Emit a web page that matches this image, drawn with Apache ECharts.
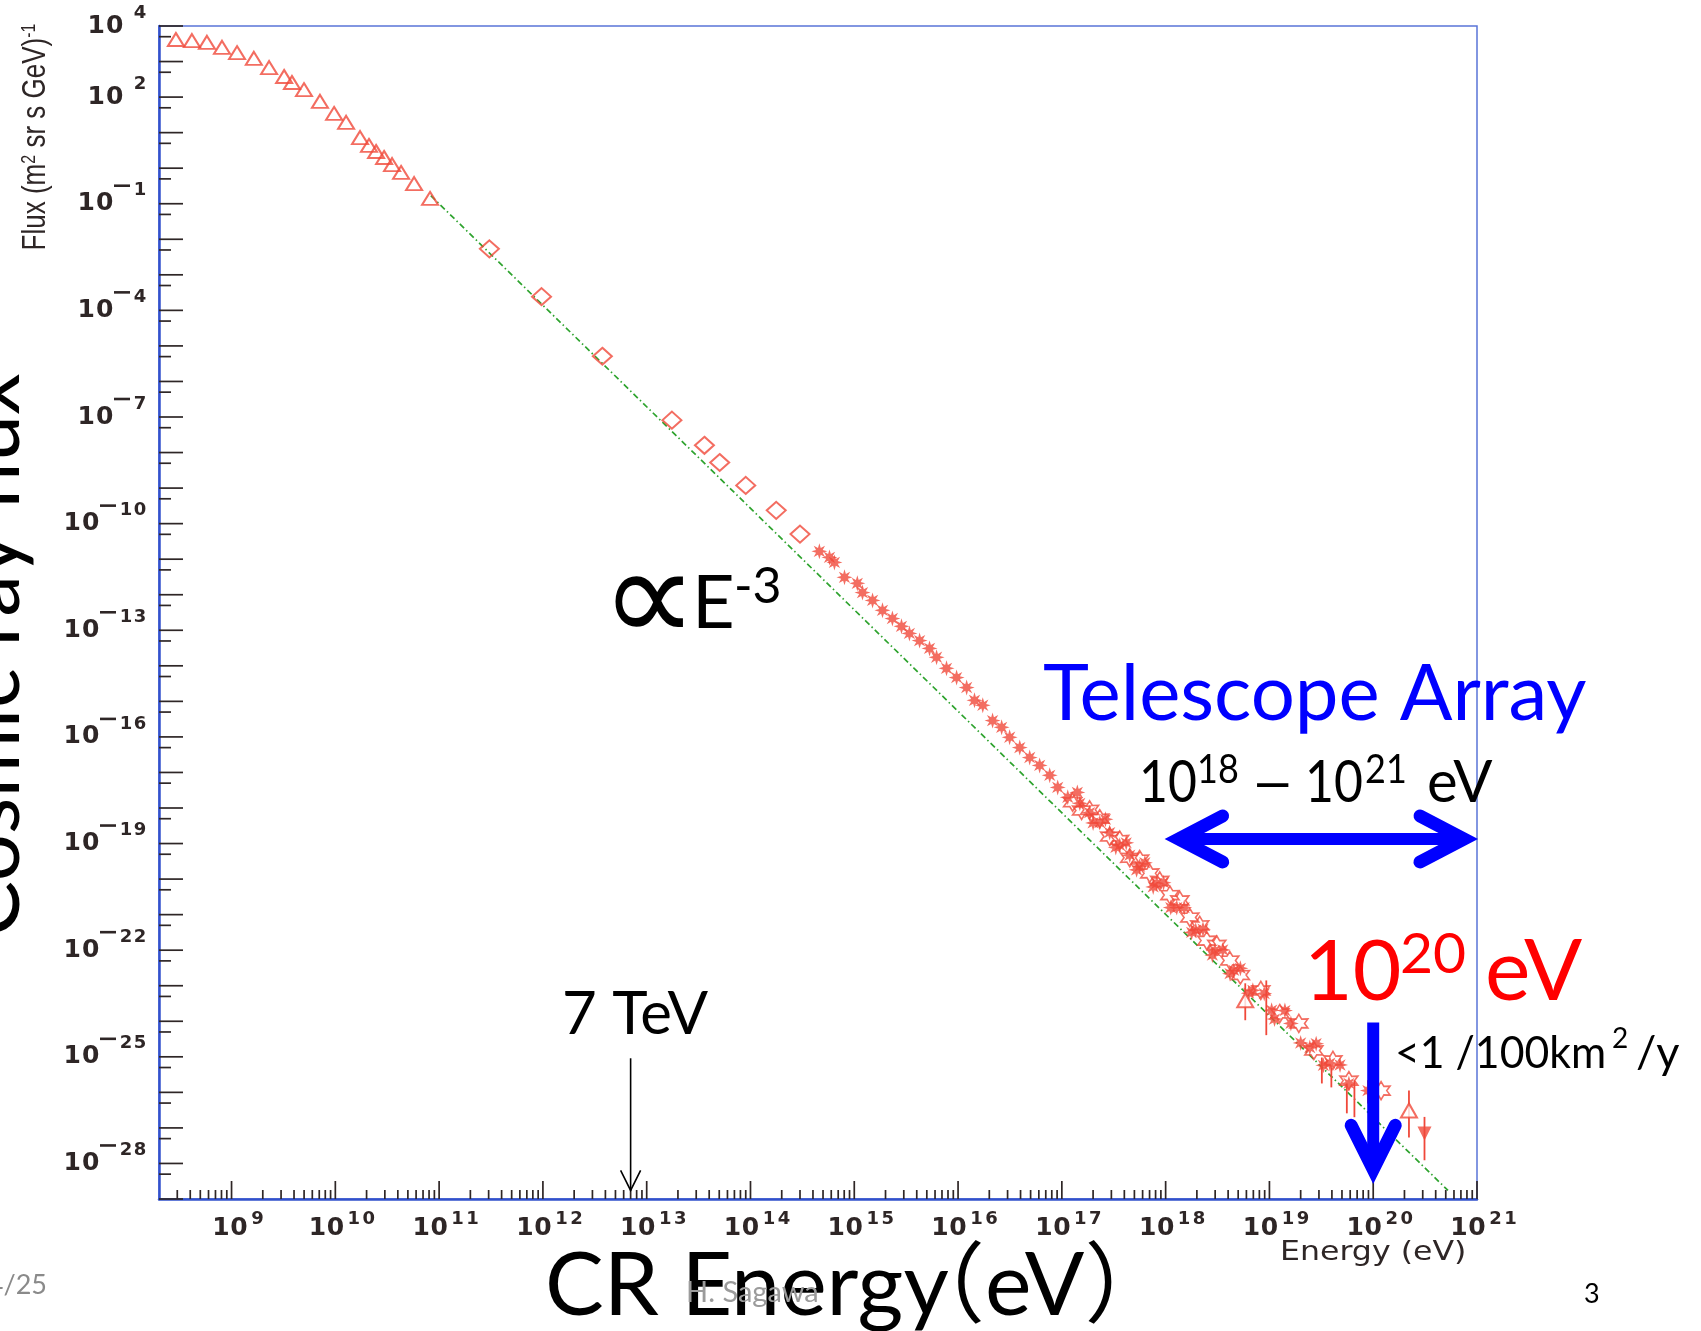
<!DOCTYPE html>
<html>
<head>
<meta charset="utf-8">
<script src="https://cdn.jsdelivr.net/npm/echarts@6.0.0/dist/echarts.min.js"></script>
<style>
html,body{margin:0;padding:0;background:#ffffff;overflow:hidden;}
#chart{width:1701px;height:1331px;}
</style>
</head>
<body>
<div id="chart"></div>
<script>
// ---------- axis ranges & tick labels ----------
const X_MIN = 2e8, X_MAX = 1e21;
const Y_MIN = 1e-29, Y_MAX = 1e4;
const xTickExps = [9, 10, 11, 12, 13, 14, 15, 16, 17, 18, 19, 20, 21];
const yLabelExps = [4, 2, -1, -4, -7, -10, -13, -16, -19, -22, -25, -28];

// ---------- data (energy in eV, flux in (m^2 sr s GeV)^-1) ----------
// open triangles (low energy)
const triE = [2.91e8, 4.15e8, 5.79e8, 8.09e8, 1.13e9, 1.64e9, 2.30e9, 3.21e9, 3.82e9, 4.99e9, 7.11e9, 9.73e9, 1.27e10, 1.73e10, 2.11e10, 2.47e10, 2.95e10, 3.52e10, 4.30e10, 5.74e10, 8.18e10];
const triF = [4170, 3890, 3470, 2510, 1780, 1230, 676, 380, 257, 162, 75.9, 34.7, 19.5, 7.24, 4.37, 2.95, 2.0, 1.26, 0.76, 0.37, 0.141];
// open diamonds
const diaE = [3.05e11, 9.70e11, 3.74e12, 1.75e13, 3.60e13, 5.05e13, 9.0e13, 1.77e14, 3.0e14];
const diaF = [5.37e-3, 2.43e-4, 5.12e-6, 8.13e-8, 1.60e-8, 5.24e-9, 1.19e-9, 2.37e-10, 5.07e-11];
// filled stars (air shower data)
const starE = [4.61e14, 5.77e14, 6.44e14, 8.05e14, 1.07e15, 1.20e15, 1.50e15, 1.87e15, 2.33e15, 2.85e15, 3.40e15, 4.26e15, 5.31e15, 6.21e15, 7.74e15, 9.68e15, 1.21e16, 1.44e16, 1.73e16, 2.15e16, 2.63e16, 3.14e16, 3.93e16, 4.90e16, 6.11e16, 7.64e16, 9.12e16, 1.14e17, 1.49e17, 1.85e17, 2.32e17, 2.89e17, 3.61e17, 4.51e17, 5.62e17, 8.20e17, 1.28e18, 1.95e18, 2.98e18, 4.54e18, 6.92e18, 1.05e19, 1.61e19, 2.45e19, 3.82e19, 5.83e19, 8.89e19];
const starF = [1.66e-11, 1.12e-11, 8.13e-12, 3.09e-12, 2.09e-12, 1.15e-12, 6.92e-13, 3.63e-13, 2.14e-13, 1.29e-13, 8.13e-14, 5.13e-14, 3.09e-14, 1.74e-14, 8.51e-15, 4.68e-15, 2.45e-15, 1.07e-15, 7.76e-16, 2.88e-16, 1.86e-16, 9.77e-17, 5.01e-17, 2.63e-17, 1.58e-17, 8.32e-18, 3.80e-18, 2.0e-18, 1.35e-18, 7.41e-19, 3.89e-19, 2.04e-19, 8.91e-20, 4.68e-20, 2.29e-20, 7.59e-21, 1.58e-21, 3.63e-22, 9.77e-23, 2.69e-23, 7.41e-24, 2.04e-24, 8.71e-25, 1.82e-25, 6.61e-26, 1.78e-26, 1.12e-26];
// further filled points in the crowded 1e17-1e20 eV band
const bandE = [1.41e17, 2.0e17, 2.63e17, 3.31e17, 4.17e17, 5.25e17, 6.31e17, 7.59e17, 9.55e17, 1.12e18, 1.51e18, 1.78e18, 2.29e18, 2.82e18, 3.55e18, 4.17e18, 5.25e18, 6.31e18, 8.91e18, 1.12e19, 1.41e19, 2.0e19, 2.82e19, 3.31e19, 4.79e19];
const bandF = [2.75e-18, 3.80e-19, 4.79e-19, 7.76e-20, 1.05e-19, 1.82e-20, 2.88e-20, 6.03e-21, 7.94e-21, 1.58e-21, 1.58e-21, 3.16e-22, 3.89e-22, 7.24e-23, 1.02e-22, 2.19e-23, 3.09e-23, 6.17e-24, 6.03e-24, 1.15e-24, 2.0e-24, 2.45e-25, 2.34e-25, 5.75e-26, 5.89e-26];
// open star symbols (UHECR experiments)
const openE = [1.27e17, 1.55e17, 1.85e17, 2.32e17, 2.89e17, 3.61e17, 4.51e17, 5.62e17, 7.03e17, 8.77e17, 1.10e18, 1.37e18, 1.71e18, 2.13e18, 2.49e18, 3.11e18, 4.15e18, 5.25e18, 8.26e18, 1.26e19, 1.92e19, 2.68e19, 4.09e19, 5.83e19, 1.19e20];
const openF = [1.45e-18, 8.5e-19, 8.9e-19, 5.0e-19, 1.58e-19, 1.26e-19, 3.98e-20, 3.55e-20, 1.45e-20, 8.9e-21, 3.55e-21, 2.51e-21, 8.3e-22, 5.0e-22, 1.86e-22, 1.41e-22, 5.13e-23, 2.0e-23, 7.41e-24, 1.66e-24, 8.71e-25, 1.51e-25, 7.94e-26, 2.14e-26, 1.12e-26];
// highest-energy open triangles and filled down triangle
const hiTriE = [5.85e18, 2.21e20];
const hiTriF = [3.89e-24, 3.09e-27];
const downTriE = [3.12e20];
const downTriF = [6.92e-28];
// vertical error bars
const errE  = [5.85e18, 9.33e18, 3.20e19, 3.95e19, 5.57e19, 6.59e19, 8.89e19, 2.21e20, 3.12e20];
const errLo = [1.07e-24, 4.07e-25, 1.78e-26, 1.38e-26, 2.57e-27, 2.0e-27, 4.90e-27, 5.37e-28, 1.23e-28];
const errHi = [1.17e-23, 1.41e-23, 9.55e-26, 5.01e-26, 1.78e-26, 2.19e-26, 2.19e-26, 1.12e-26, 2.04e-27];
// power-law guide line (proportional to E^-3)
const guideE = [8.32e10, 5.25e20];
const guideF = [0.1687, 1.74e-29];
// annotation anchors
const taRange = [1e18, 1e21];
const taFlux = 1.35e-19;
const gzkE = 1e20;
const gzkF = [9.3e-25, 2.75e-29];
const lhcE = 7e12;
const lhcF = [9.1e-26, 1.74e-29];

// ---------- styling ----------
const RED = '#f0483a';
const TICK = '#2e2626';
const BLUE = '#0000ff';
const MAIN_FONT = 'bold 25px "DejaVu Sans"';
const EXP_FONT = 'bold 18px "DejaVu Sans"';
const SLIDE = 'Lato, "Noto Sans", sans-serif';

function pow10(e) { return Number('1e' + e); }

function starPath(n, rIn) {
  let d = '';
  for (let i = 0; i < 2 * n; i++) {
    const r = i % 2 ? rIn : 1;
    const a = Math.PI / 2 + i * Math.PI / n;
    d += (i ? 'L' : 'M') + (r * Math.cos(a)).toFixed(3) + ' ' + (-r * Math.sin(a)).toFixed(3) + ' ';
  }
  return 'path://' + d + 'Z';
}

// tick positions (axis structure)
const tickData = [];
for (let e = 8; e <= 21; e++) {
  const v = pow10(e);
  if (v > X_MIN && v <= X_MAX) tickData.push([v, Y_MIN, 18, 0]);
  if (e < 21) for (let m = 2; m <= 9; m++) {
    const w = m * pow10(e);
    if (w > X_MIN && w < X_MAX) tickData.push([w, Y_MIN, 9, 0]);
  }
}
for (let e = -29; e <= 4; e++) {
  tickData.push([X_MIN, pow10(e), 24, 1]);
  if (e < 4) tickData.push([X_MIN, 5 * pow10(e), 12, 1]);
}

function renderTick(params, api) {
  const p = api.coord([api.value(0), api.value(1)]);
  const len = api.value(2), o = api.value(3);
  const shape = o === 0
    ? { x1: p[0], y1: p[1], x2: p[0], y2: p[1] - len }
    : { x1: p[0], y1: p[1], x2: p[0] + len, y2: p[1] };
  return { type: 'line', shape, style: { stroke: TICK, lineWidth: 1.7 } };
}

function cellText(str, x0, cell, y, font) {
  return str.split('').map((ch, i) => ({
    type: 'text',
    style: { text: ch, x: x0 + cell * (i + 0.5), y: y, font: font, fill: TICK, textAlign: 'center', textVerticalAlign: 'middle' }
  }));
}

function renderXLabel(params, api) {
  const p = api.coord([api.value(0), api.value(1)]);
  const s = String(api.value(2));
  const W = 36 + 2 + 15 * s.length;
  const left = p[0] + 7 - W / 2;
  return { type: 'group', children: cellText('10', left, 18, p[1] + 29, MAIN_FONT).concat(cellText(s, left + 38, 15, p[1] + 20, EXP_FONT)) };
}

function renderYLabel(params, api) {
  const p = api.coord([api.value(0), api.value(1)]);
  const e = api.value(2);
  const s = String(Math.abs(e));
  const R = p[0] - 12;
  const expL = R - 14 * s.length;
  const minusR = expL - 3, minusL = minusR - 16;
  const mainR = e < 0 ? minusL : expL - 9;
  const children = cellText('10', mainR - 37, 18.5, p[1], MAIN_FONT).concat(cellText(s, expL, 14, p[1] - 13, EXP_FONT));
  if (e < 0) children.push({ type: 'line', shape: { x1: minusL, y1: p[1] - 18, x2: minusR, y2: p[1] - 18 }, style: { stroke: TICK, lineWidth: 2.6 } });
  return { type: 'group', children };
}

function renderErr(params, api) {
  const a = api.coord([api.value(0), api.value(1)]);
  const b = api.coord([api.value(0), api.value(2)]);
  return { type: 'line', shape: { x1: a[0], y1: a[1], x2: b[0], y2: b[1] }, style: { stroke: RED, lineWidth: 1.8 } };
}

function renderArrow(params, api) {
  const a = api.coord([api.value(0), api.value(1)]);
  const b = api.coord([api.value(2), api.value(3)]);
  const kind = api.value(4);
  if (kind === 0) { // blue double arrow
    const inset = 13;
    return { type: 'group', children: [
      { type: 'line', shape: { x1: a[0] + inset, y1: a[1], x2: b[0] - inset, y2: b[1] }, style: { stroke: BLUE, lineWidth: 12 } },
      { type: 'polyline', shape: { points: [[a[0] + inset + 44, a[1] - 23], [a[0] + inset, a[1]], [a[0] + inset + 44, a[1] + 23]] }, style: { stroke: BLUE, lineWidth: 13, fill: 'none', lineJoin: 'miter', lineCap: 'round' } },
      { type: 'polyline', shape: { points: [[b[0] - inset - 44, b[1] - 23], [b[0] - inset, b[1]], [b[0] - inset - 44, b[1] + 23]] }, style: { stroke: BLUE, lineWidth: 13, fill: 'none', lineJoin: 'miter', lineCap: 'round' } }
    ] };
  }
  if (kind === 1) { // blue down arrow
    const inset = 14;
    return { type: 'group', children: [
      { type: 'line', shape: { x1: a[0], y1: a[1], x2: b[0], y2: b[1] - inset }, style: { stroke: BLUE, lineWidth: 12 } },
      { type: 'polyline', shape: { points: [[b[0] - 22, b[1] - inset - 44], [b[0], b[1] - inset], [b[0] + 22, b[1] - inset - 44]] }, style: { stroke: BLUE, lineWidth: 13, fill: 'none', lineJoin: 'miter', lineCap: 'round' } }
    ] };
  }
  // thin black arrow
  return { type: 'group', children: [
    { type: 'line', shape: { x1: a[0], y1: a[1], x2: b[0], y2: b[1] }, style: { stroke: '#000', lineWidth: 1.6 } },
    { type: 'polyline', shape: { points: [[b[0] - 10, b[1] - 20], [b[0], b[1]], [b[0] + 10, b[1] - 20]] }, style: { stroke: '#000', lineWidth: 1.6, fill: 'none' } }
  ] };
}

function T(text, x, base, size, color, opt) {
  opt = opt || {};
  const fam = opt.family || SLIDE;
  return Object.assign({
    type: 'text', x: x, y: base - 0.32 * size, z: opt.z || 50,
    style: { text: text, font: size + 'px ' + fam, fill: color, textAlign: opt.align || 'left', textVerticalAlign: 'middle' }
  }, opt.el || {});
}

const pair = (xs, ys) => xs.map((x, i) => [x, ys[i]]);
const STAR8 = starPath(8, 0.45);
const STAR6 = starPath(6, 0.55);

const chart = echarts.init(document.getElementById('chart'), null, { renderer: 'canvas' });
chart.setOption({
  animation: false,
  backgroundColor: '#ffffff',
  grid: { left: 159, top: 26, width: 1318, height: 1173, show: true, borderColor: '#5a74d8', borderWidth: 1.5, backgroundColor: 'transparent' },
  xAxis: {
    type: 'log', logBase: 10, min: X_MIN, max: X_MAX,
    axisLine: { show: true, lineStyle: { color: '#3251cc', width: 2.5 } },
    axisTick: { show: false }, axisLabel: { show: false }, splitLine: { show: false }
  },
  yAxis: {
    type: 'log', logBase: 10, min: Y_MIN, max: Y_MAX,
    axisLine: { show: true, lineStyle: { color: '#3251cc', width: 2.5 } },
    axisTick: { show: false }, axisLabel: { show: false }, splitLine: { show: false }
  },
  series: [
    { type: 'line', data: pair(guideE, guideF), showSymbol: false, silent: true, z: 2,
      lineStyle: { color: '#2ea32e', width: 1.7, type: [6, 3, 1.5, 3] } },
    { type: 'custom', renderItem: renderErr, data: errE.map((e, i) => [e, errLo[i], errHi[i]]), clip: false, z: 3, silent: true },
    { type: 'scatter', data: pair(triE, triF), symbol: 'triangle', symbolSize: [16, 13], z: 4,
      itemStyle: { color: 'rgba(255,255,255,0)', borderColor: RED, borderWidth: 2 } },
    { type: 'scatter', data: pair(diaE, diaF), symbol: 'diamond', symbolSize: [19, 17], z: 4,
      itemStyle: { color: 'rgba(255,255,255,0)', borderColor: RED, borderWidth: 2 } },
    { type: 'scatter', data: pair(starE, starF), symbol: STAR8, symbolSize: 16, z: 4,
      itemStyle: { color: RED } },
    { type: 'scatter', data: pair(bandE, bandF), symbol: STAR8, symbolSize: 16, z: 4,
      itemStyle: { color: RED } },
    { type: 'scatter', data: pair(openE, openF), symbol: STAR6, symbolSize: 18, z: 5,
      itemStyle: { color: 'rgba(255,255,255,0)', borderColor: RED, borderWidth: 1.6 } },
    { type: 'scatter', data: pair(hiTriE, hiTriF), symbol: 'triangle', symbolSize: [16, 14], z: 5,
      itemStyle: { color: '#ffffff', borderColor: RED, borderWidth: 2 } },
    { type: 'scatter', data: pair(downTriE, downTriF), symbol: 'triangle', symbolRotate: 180, symbolSize: [14, 14], z: 5,
      itemStyle: { color: RED } },
    { type: 'custom', renderItem: renderTick, data: tickData, clip: false, z: 6, silent: true },
    { type: 'custom', renderItem: renderXLabel, data: xTickExps.map(e => [pow10(e), Y_MIN, e]), clip: false, z: 6, silent: true },
    { type: 'custom', renderItem: renderYLabel, data: yLabelExps.map(e => [X_MIN, pow10(e), e]), clip: false, z: 6, silent: true },
    { type: 'custom', renderItem: renderArrow, clip: false, z: 10, silent: true,
      data: [
        [taRange[0], taFlux, taRange[1], taFlux, 0],
        [gzkE, gzkF[0], gzkE, gzkF[1], 1],
        [lhcE, lhcF[0], lhcE, lhcF[1], 2]
      ] }
  ],
  graphic: [
    // big slide y title (mostly off the left edge)
    { type: 'text', x: -8, y: 655, rotation: Math.PI / 2, z: 50,
      style: { text: 'Cosmic ray flux', font: '84px ' + SLIDE, fill: '#000', textAlign: 'center', textVerticalAlign: 'middle' } },
    // plot's own y title
    { type: 'text', x: 36, y: 137, rotation: Math.PI / 2, scaleY: 1.25, z: 50,
      style: { text: 'Flux (m{s|2} sr s GeV){s|-1}', font: '26px "Liberation Sans"', fill: TICK, textAlign: 'center', textVerticalAlign: 'middle',
        rich: { s: { fontSize: 16, fontFamily: 'Liberation Sans', fill: TICK, verticalAlign: 'top' } } } },
    T('Energy (eV)', 1280, 1262, 27, TICK, { family: '"DejaVu Sans"', el: { scaleX: 1.17 } }),
    { type: 'text', x: 601, y: 607, z: 50,
      style: { text: '\u221D', font: '135px "DejaVu Sans"', fill: '#000', textAlign: 'left', textVerticalAlign: 'middle' } },
    T('E', 692, 628, 74, '#000'),
    T('-3', 734, 603, 50, '#000'),
    T('7 TeV', 562, 1034, 60, '#000'),
    T('Telescope Array', 1043, 720, 78, BLUE),
    T('10', 1139, 802, 58, '#000', { el: { scaleX: 0.86 } }),
    T('18', 1197, 783, 40, '#000', { el: { scaleX: 0.9 } }),
    T('\u2013', 1250, 802, 58, '#000', { el: { scaleX: 1.35 } }),
    T('10', 1305, 802, 58, '#000', { el: { scaleX: 0.86 } }),
    T('21', 1365, 783, 40, '#000', { el: { scaleX: 0.9 } }),
    T('eV', 1427, 802, 58, '#000'),
    T('10', 1304, 1000, 84, '#ff0000'),
    T('20', 1400, 973, 57, '#ff0000'),
    T('eV', 1485, 1000, 86, '#ff0000'),
    T('<1 /100km', 1395, 1068, 45, '#000', { el: { scaleX: 0.95 } }),
    T('2', 1612, 1048, 28, '#000'),
    T('/y', 1636, 1068, 45, '#000'),
    T('CR Energy', 545, 1315, 88, '#000'),
    T('\uFF08eV\uFF09', 897, 1315, 88, '#000', { family: 'Lato, "Noto Sans CJK JP"' }),
    T('H. Sagawa', 686, 1302, 29, '#9b9b9b', { z: 60 }),
    T('3', 1584, 1303, 27, '#000'),
    T('4/25', 47, 1294, 27, '#8a8a8a', { align: 'right' })
  ]
});
</script>
</body>
</html>
